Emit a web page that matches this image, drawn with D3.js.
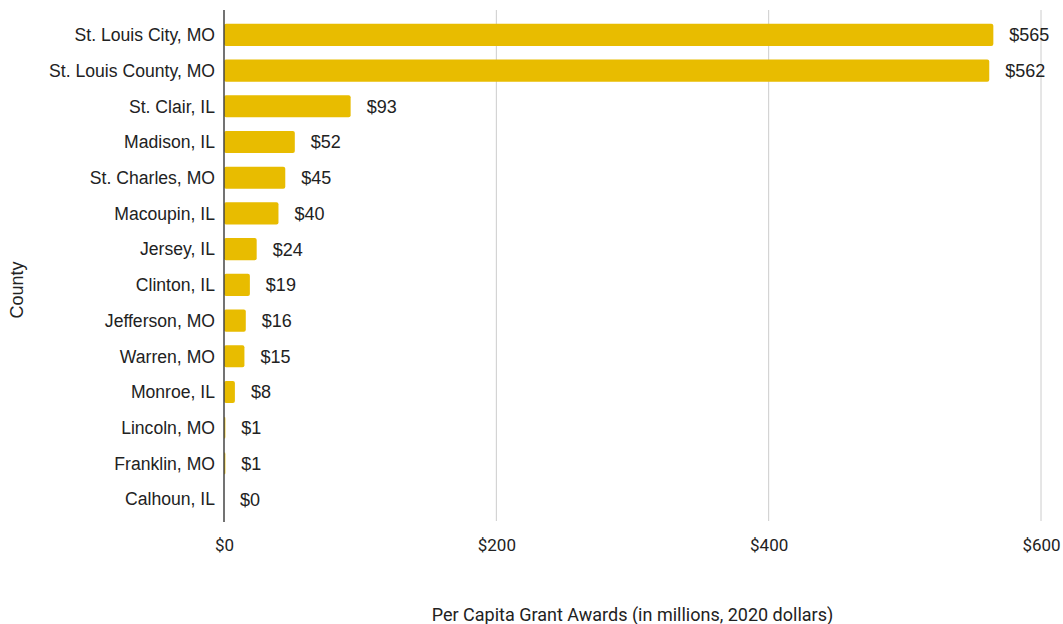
<!DOCTYPE html>
<html>
<head>
<meta charset="utf-8">
<script src="https://cdn.jsdelivr.net/npm/d3@7"></script>
<style>
  html, body { margin: 0; padding: 0; background: #fff; }
  svg { display: block; }
</style>
</head>
<body>
<svg id="chart" width="1063" height="624"></svg>
<script>
// County-level per capita grant awards (millions, 2020 dollars)
const counties = [
  "St. Louis City, MO", "St. Louis County, MO", "St. Clair, IL", "Madison, IL",
  "St. Charles, MO", "Macoupin, IL", "Jersey, IL", "Clinton, IL",
  "Jefferson, MO", "Warren, MO", "Monroe, IL", "Lincoln, MO",
  "Franklin, MO", "Calhoun, IL"
];
const awards = [565, 562, 93, 52, 45, 40, 24, 19, 16, 15, 8, 1, 1, 0];
const tickValues = [0, 200, 400, 600];

const data = counties.map((c, i) => ({ county: c, value: awards[i] }));

const svg = d3.select("#chart");
const margin = { left: 224, right: 22, top: 17, bottom: 107 };
const width = 1063, height = 624;

const x = d3.scaleLinear()
  .domain([0, 600])
  .range([margin.left, width - margin.right]);

const y = d3.scaleBand()
  .domain(counties)
  .range([margin.top, height - margin.bottom])
  .paddingInner(0.38)
  .paddingOuter(0.19);

const labelFont = "'Liberation Sans', Arial, sans-serif";
const tickFont = "Roboto, 'Liberation Sans', sans-serif";

// vertical gridlines
svg.append("g")
  .selectAll("line")
  .data(tickValues.filter(d => d > 0))
  .join("line")
  .attr("x1", d => x(d)).attr("x2", d => x(d))
  .attr("y1", 10).attr("y2", 521)
  .attr("stroke", "#cccccc")
  .attr("stroke-width", 1);

// bars
svg.append("g")
  .selectAll("rect")
  .data(data)
  .join("rect")
  .attr("x", x(0))
  .attr("y", d => y(d.county))
  .attr("width", d => Math.max(0, x(d.value) - x(0)))
  .attr("height", y.bandwidth())
  .attr("rx", 2).attr("ry", 2)
  .attr("fill", "#e8bc00");

// value labels
svg.append("g")
  .selectAll("text")
  .data(data)
  .join("text")
  .attr("x", d => x(d.value) + 16)
  .attr("y", d => y(d.county) + y.bandwidth() / 2)
  .attr("dy", "0.36em")
  .attr("font-family", labelFont)
  .attr("font-size", 18)
  .attr("fill", "#222")
  .text(d => "$" + d.value);

// category axis
const yAxis = svg.append("g")
  .attr("transform", `translate(${x(0)},0)`)
  .call(d3.axisLeft(y).tickSize(0).tickPadding(9));
yAxis.select(".domain").remove();
yAxis.selectAll("text")
  .attr("font-family", labelFont)
  .attr("font-size", 17.6)
  .attr("dy", "0.36em")
  .attr("fill", "#222");

// baseline
svg.append("line")
  .attr("x1", x(0)).attr("x2", x(0))
  .attr("y1", 10).attr("y2", 522)
  .attr("stroke", "#444")
  .attr("stroke-width", 1.5);

// value axis
const xAxis = svg.append("g")
  .attr("transform", `translate(0,${height - margin.bottom})`)
  .call(d3.axisBottom(x).tickValues(tickValues).tickSize(0).tickPadding(22)
    .tickFormat(d => "$" + d));
xAxis.select(".domain").remove();
xAxis.selectAll("text")
  .attr("font-family", tickFont)
  .attr("font-size", 17)
  .attr("fill", "#222");

// axis titles
svg.append("text")
  .attr("x", x(300))
  .attr("y", 621)
  .attr("text-anchor", "middle")
  .attr("font-family", tickFont)
  .attr("font-size", 18)
  .attr("fill", "#222")
  .text("Per Capita Grant Awards (in millions, 2020 dollars)");

svg.append("text")
  .attr("transform", "translate(23,290) rotate(-90)")
  .attr("text-anchor", "middle")
  .attr("font-family", labelFont)
  .attr("font-size", 18)
  .attr("fill", "#222")
  .text("County");
</script>
</body>
</html>
